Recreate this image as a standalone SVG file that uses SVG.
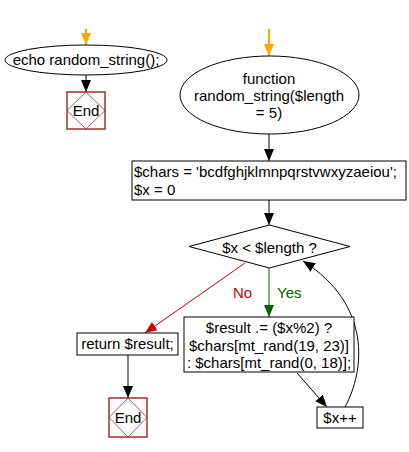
<svg xmlns="http://www.w3.org/2000/svg" width="409" height="452" viewBox="0 0 409 452">
<style>
text{font-family:"Liberation Sans",Arial,sans-serif;font-size:15px;fill:#000}
.c{text-anchor:middle}
.sh{fill:#fff;stroke:#000;stroke-width:1}
.endr{fill:#fff;stroke:#993333;stroke-width:1.5}
.endd{fill:none;stroke:#a52a2a;stroke-width:0.8}
.ln{fill:none;stroke:#000;stroke-width:1}
</style>
<defs>
<marker id="ab" viewBox="0 0 12 10" refX="12" refY="5" markerWidth="12" markerHeight="10" markerUnits="userSpaceOnUse" orient="auto"><path d="M0,0 L12,5 L0,10 z" fill="#000"/></marker>
<marker id="ao" viewBox="0 0 12 10" refX="12" refY="5" markerWidth="12" markerHeight="10" markerUnits="userSpaceOnUse" orient="auto"><path d="M0,0 L12,5 L0,10 z" fill="#ffa500"/></marker>
<marker id="ar" viewBox="0 0 12 10" refX="12" refY="5" markerWidth="12" markerHeight="10" markerUnits="userSpaceOnUse" orient="auto"><path d="M0,0 L12,5 L0,10 z" fill="#cc0000"/></marker>
<marker id="ag" viewBox="0 0 12 10" refX="12" refY="5" markerWidth="12" markerHeight="10" markerUnits="userSpaceOnUse" orient="auto"><path d="M0,0 L12,5 L0,10 z" fill="#006400"/></marker>
</defs>
<g id="connectors">
<line x1="86" y1="29" x2="86" y2="45" stroke="#ffa500" stroke-width="2" marker-end="url(#ao)"/>
<line x1="86" y1="75" x2="86" y2="92" class="ln" marker-end="url(#ab)"/>
<line x1="269" y1="29" x2="269" y2="56" stroke="#ffa500" stroke-width="2" marker-end="url(#ao)"/>
<line x1="269" y1="134" x2="269" y2="161" class="ln" marker-end="url(#ab)"/>
<line x1="269" y1="200" x2="269" y2="225" class="ln" marker-end="url(#ab)"/>
<line x1="269" y1="268" x2="269" y2="317" stroke="#006400" stroke-width="1" marker-end="url(#ag)"/>
<line x1="245" y1="263" x2="145" y2="333" stroke="#cc0000" stroke-width="1" marker-end="url(#ar)"/>
<line x1="128" y1="355" x2="128" y2="398" class="ln" stroke-width="1.5" marker-end="url(#ab)"/>
<line x1="297" y1="373" x2="327" y2="407" class="ln" marker-end="url(#ab)"/>
<path d="M345,407 C365,370 372,305 303,261" class="ln" marker-end="url(#ab)"/>
<text x="233" y="298" fill="#cc0000" style="fill:#cc0000">No</text>
<text x="277" y="298" style="fill:#006400">Yes</text>
</g>
<g id="start1">
<ellipse cx="86" cy="60" rx="81" ry="15" class="sh"/>
<text x="86" y="65" class="c">echo random_string();</text>
</g>
<g id="end1">
<rect x="67" y="92" width="38" height="37" class="endr"/>
<path d="M86,92 L105,110.5 L86,129 L67,110.5 z" class="endd"/>
<text x="86" y="116" class="c">End</text>
</g>
<g id="func">
<ellipse cx="269.5" cy="95" rx="89.5" ry="39" class="sh"/>
<text x="269" y="84" class="c">function</text>
<text x="269" y="101" class="c">random_string($length</text>
<text x="269" y="118" class="c">= 5)</text>
</g>
<g id="init">
<rect x="132" y="161" width="274" height="39" class="sh"/>
<text x="134" y="177">$chars = 'bcdfghjklmnpqrstvwxyzaeiou';</text>
<text x="134" y="195">$x = 0</text>
</g>
<g id="cond">
<path d="M269.5,225 L350,246.5 L269.5,268 L189,246.5 z" class="sh"/>
<text x="269.5" y="253" class="c">$x &lt; $length ?</text>
</g>
<g id="body">
<rect x="184" y="317" width="170" height="55" class="sh"/>
<text x="269" y="333" class="c">$result .= ($x%2) ?</text>
<text x="269" y="351" class="c">$chars[mt_rand(19, 23)]</text>
<text x="269" y="368" class="c">: $chars[mt_rand(0, 18)];</text>
</g>
<g id="incr">
<rect x="317" y="407" width="46" height="21" class="sh"/>
<text x="340" y="423" class="c">$x++</text>
</g>
<g id="ret">
<rect x="77" y="333" width="101" height="22" class="sh"/>
<text x="127.5" y="349" class="c">return $result;</text>
</g>
<g id="end2">
<rect x="109" y="398" width="38" height="39" class="endr"/>
<path d="M128,398 L147,417.5 L128,437 L109,417.5 z" class="endd"/>
<text x="128" y="423" class="c">End</text>
</g>
</svg>
